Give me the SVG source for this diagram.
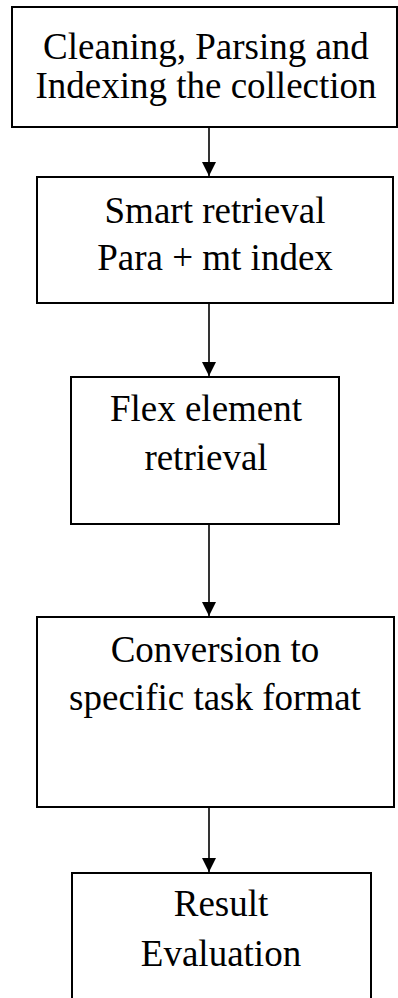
<svg xmlns="http://www.w3.org/2000/svg" width="398" height="998" viewBox="0 0 398 998">
<style>
rect.box { fill: #fff; stroke: #000; stroke-width: 2; }
text { font-family: "Liberation Serif", "Times New Roman", serif; font-size: 37px; fill: #000; text-anchor: middle; }
line.conn { stroke: #000; stroke-width: 1.6; }
</style>
<defs>
<marker id="arr" markerWidth="16" markerHeight="14" refX="14" refY="7" orient="auto" markerUnits="userSpaceOnUse">
<path d="M0,0 L14,7 L0,14 Z" fill="#000"/>
</marker>
</defs>
<g id="connectors">
<line class="conn" x1="209" y1="127" x2="209" y2="176" marker-end="url(#arr)"/>
<line class="conn" x1="209" y1="303" x2="209" y2="376" marker-end="url(#arr)"/>
<line class="conn" x1="209" y1="524" x2="209" y2="616" marker-end="url(#arr)"/>
<line class="conn" x1="209" y1="807" x2="209" y2="872" marker-end="url(#arr)"/>
</g>
<g id="n1">
<rect class="box" x="12" y="7" width="385" height="120"/>
<text x="206" y="59">Cleaning, Parsing and</text>
<text x="206" y="98">Indexing the collection</text>
</g>
<g id="n2">
<rect class="box" x="37" y="177" width="356" height="126"/>
<text x="215" y="223">Smart retrieval</text>
<text x="215" y="270">Para + mt index</text>
</g>
<g id="n3">
<rect class="box" x="71" y="377" width="268" height="147"/>
<text x="206" y="421">Flex element</text>
<text x="206" y="470">retrieval</text>
</g>
<g id="n4">
<rect class="box" x="37" y="617" width="357" height="190"/>
<text x="215" y="662">Conversion to</text>
<text x="215" y="710">specific task format</text>
</g>
<g id="n5">
<rect class="box" x="72" y="873" width="299" height="140"/>
<text x="221" y="916">Result</text>
<text x="221" y="966">Evaluation</text>
</g>
</svg>
